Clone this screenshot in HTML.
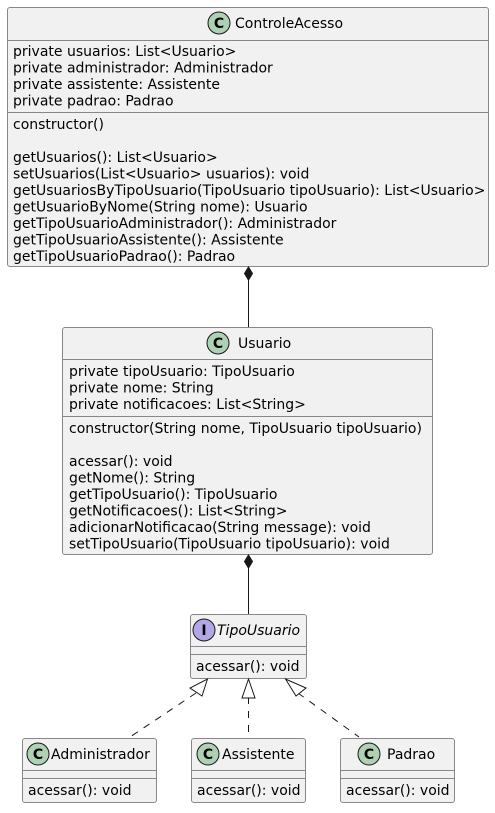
<!DOCTYPE html>
<html><head><meta charset="utf-8"><style>
html,body{margin:0;padding:0;background:#fff}
svg text{font-family:"DejaVu Sans","Liberation Sans",sans-serif;font-size:14px;fill:#000}
</style></head><body>
<svg width="495" height="808" viewBox="0 0 495 808" xmlns="http://www.w3.org/2000/svg">
<g stroke="#888" stroke-width="1" fill="#F1F1F1">
<rect x="7.5" y="7.5" width="481" height="259" rx="2.5"/>
<rect x="62.5" y="327.5" width="370" height="227" rx="2.5"/>
<rect x="190.5" y="614.5" width="116" height="64" rx="2.5"/>
<rect x="22.5" y="738.5" width="134" height="64" rx="2.5"/>
<rect x="191.5" y="738.5" width="114" height="64" rx="2.5"/>
<rect x="340.5" y="738.5" width="114" height="64" rx="2.5"/>
</g>
<g stroke="#888" stroke-width="1">
<line x1="8" y1="40.5" x2="488" y2="40.5"/>
<line x1="8" y1="112.5" x2="488" y2="112.5"/>
<line x1="63" y1="359.5" x2="432" y2="359.5"/>
<line x1="63" y1="416.5" x2="432" y2="416.5"/>
<line x1="191" y1="646.5" x2="306" y2="646.5"/>
<line x1="191" y1="654.5" x2="306" y2="654.5"/>
<line x1="23" y1="770.5" x2="156" y2="770.5"/>
<line x1="23" y1="778.5" x2="156" y2="778.5"/>
<line x1="192" y1="770.5" x2="305" y2="770.5"/>
<line x1="192" y1="778.5" x2="305" y2="778.5"/>
<line x1="341" y1="770.5" x2="454" y2="770.5"/>
<line x1="341" y1="778.5" x2="454" y2="778.5"/>
</g>
<g stroke="#181818" stroke-width="1">
<line x1="248.5" y1="280" x2="248.5" y2="327"/>
<polygon points="248.5,267 252.5,273.5 248.5,280 244.5,273.5" fill="#181818"/>
<line x1="248.5" y1="568" x2="248.5" y2="614"/>
<polygon points="248.5,555 252.5,561.5 248.5,568 244.5,561.5" fill="#181818"/>
<g stroke-dasharray="7,7" fill="none">
<line x1="196" y1="693" x2="130" y2="737"/>
<line x1="248.5" y1="697" x2="248.5" y2="737"/>
<line x1="298" y1="693" x2="359" y2="737"/>
</g>
<g fill="#fff">
<polygon points="207.5,679 202,696 190,688"/>
<polygon points="248.5,679 255,698 242,698"/>
<polygon points="285.5,679 306,688 296,696"/>
</g>
</g>
<g stroke="#181818" stroke-width="1">
<circle cx="219" cy="23" r="11" fill="#ADD1B2"/>
<circle cx="218" cy="343" r="11" fill="#ADD1B2"/>
<circle cx="204" cy="630" r="11" fill="#B4A7E5"/>
<circle cx="38" cy="754" r="11" fill="#ADD1B2"/>
<circle cx="208" cy="754" r="11" fill="#ADD1B2"/>
<circle cx="369" cy="754" r="11" fill="#ADD1B2"/>
</g>
<g style="font-weight:bold;font-size:13px" text-anchor="middle">
<text x="219" y="28">C</text><text x="218" y="348">C</text><text x="204" y="635">I</text>
<text x="38" y="759">C</text><text x="208" y="759">C</text><text x="369" y="759">C</text>
</g>
<text x="235" y="28">ControleAcesso</text>
<text x="238" y="348">Usuario</text>
<text x="217" y="635" font-style="italic">TipoUsuario</text>
<text x="51" y="759">Administrador</text>
<text x="222" y="759">Assistente</text>
<text x="387" y="759">Padrao</text>
<g>
<text x="13" y="56">private usuarios: List&lt;Usuario&gt;</text>
<text x="13" y="72.5">private administrador: Administrador</text>
<text x="13" y="89">private assistente: Assistente</text>
<text x="13" y="105.5">private padrao: Padrao</text>
<text x="13" y="129">constructor()</text>
<text x="13" y="162">getUsuarios(): List&lt;Usuario&gt;</text>
<text x="13" y="178.5">setUsuarios(List&lt;Usuario&gt; usuarios): void</text>
<text x="13" y="195">getUsuariosByTipoUsuario(TipoUsuario tipoUsuario): List&lt;Usuario&gt;</text>
<text x="13" y="211.5">getUsuarioByNome(String nome): Usuario</text>
<text x="13" y="228">getTipoUsuarioAdministrador(): Administrador</text>
<text x="13" y="244.5">getTipoUsuarioAssistente(): Assistente</text>
<text x="13" y="261">getTipoUsuarioPadrao(): Padrao</text>

<text x="69" y="376">private tipoUsuario: TipoUsuario</text>
<text x="69" y="392.5">private nome: String</text>
<text x="69" y="409">private notificacoes: List&lt;String&gt;</text>
<text x="69" y="433">constructor(String nome, TipoUsuario tipoUsuario)</text>
<text x="69" y="466">acessar(): void</text>
<text x="69" y="482.5">getNome(): String</text>
<text x="69" y="499">getTipoUsuario(): TipoUsuario</text>
<text x="69" y="515.5">getNotificacoes(): List&lt;String&gt;</text>
<text x="69" y="532">adicionarNotificacao(String message): void</text>
<text x="69" y="548.5">setTipoUsuario(TipoUsuario tipoUsuario): void</text>

<text x="196" y="671">acessar(): void</text>
<text x="28" y="795">acessar(): void</text>
<text x="197" y="795">acessar(): void</text>
<text x="346" y="795">acessar(): void</text>
</g>
</svg>
</body></html>
